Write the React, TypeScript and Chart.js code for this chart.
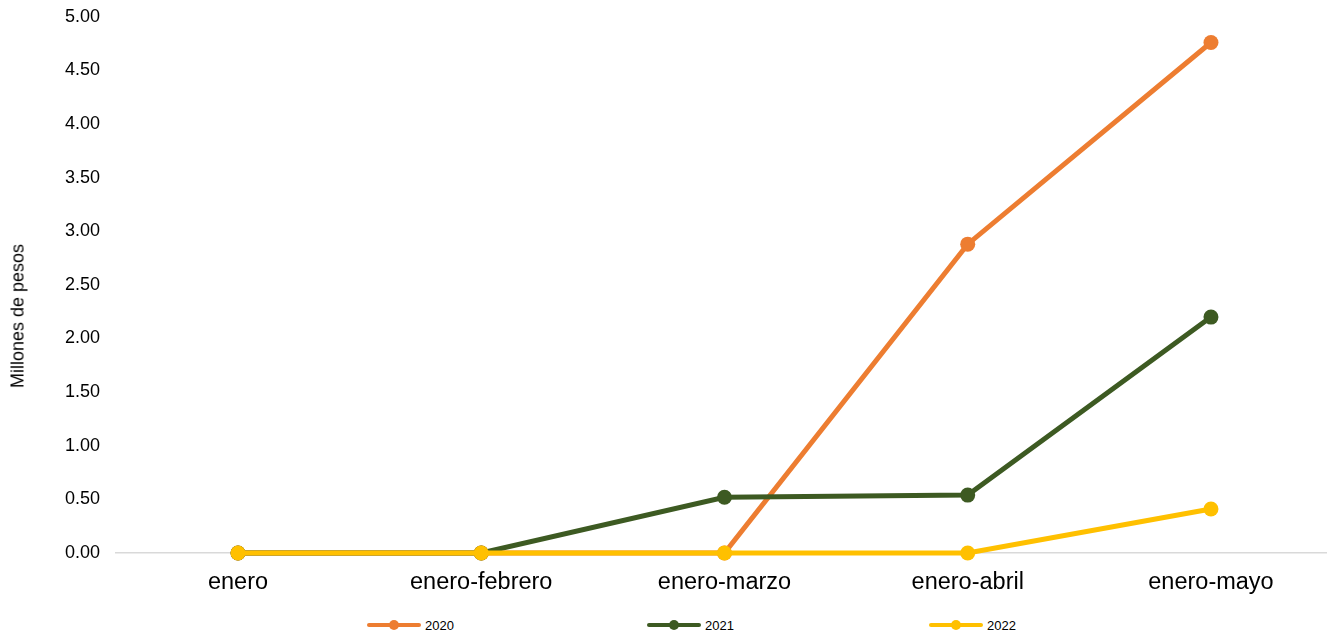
import React, { useEffect, useRef } from "react";
import { Chart, registerables } from "chart.js";

Chart.register(...registerables);

const categories = ["enero", "enero-febrero", "enero-marzo", "enero-abril", "enero-mayo"];
const series2020 = [0, 0, 0, 2.88, 4.76];
const series2021 = [0, 0, 0.52, 0.54, 2.2];
const series2022 = [0, 0, 0, 0, 0.41];
const seriesNames = ["2020", "2021", "2022"];
const colors = ["#ED7D31", "#3D5A22", "#FFC000"];
const yTickValues = [0, 0.5, 1, 1.5, 2, 2.5, 3, 3.5, 4, 4.5, 5];
const yTitle = "Millones de pesos";

const FONT = "'Liberation Sans', Arial, sans-serif";

export default function App() {
  const ref = useRef<HTMLCanvasElement | null>(null);

  useEffect(() => {
    document.body.style.margin = "0";
    const canvas = ref.current;
    if (!canvas) return;
    const all = [series2020, series2021, series2022];
    const chart = new Chart(canvas, {
      type: "line",
      data: {
        datasets: all.map((d, i) => ({
          label: seriesNames[i],
          data: d.map((y, k) => ({ x: k, y })),
          borderColor: colors[i],
          backgroundColor: colors[i],
          pointBackgroundColor: colors[i],
          pointBorderColor: colors[i],
          pointRadius: 7.5,
          pointBorderWidth: 0,
          borderWidth: 5,
          tension: 0,
          order: 3 - i,
          clip: false,
        })),
      },
      options: {
        responsive: false,
        animation: false,
        layout: { autoPadding: false, padding: { top: 0, right: 0, bottom: 0, left: 0 } },
        plugins: {
          legend: { display: false },
          tooltip: { enabled: false },
        },
        scales: {
          x: {
            type: "linear",
            min: -0.5015,
            max: 4.477,
            grid: { display: false, drawTicks: false },
            border: { display: true, color: "#D9D9D9", width: 1.5 },
            afterBuildTicks: (s: any) => {
              s.ticks = categories.map((_, k) => ({ value: k }));
            },
            ticks: {
              color: "#000",
              font: { family: FONT, size: 23.5 },
              padding: 15,
              maxRotation: 0,
              autoSkip: false,
              callback: (v: any) => categories[Math.round(Number(v))] ?? "",
            },
            afterFit: (s: any) => {
              s.height = 52;
            },
          },
          y: {
            min: 0,
            max: 5,
            grid: {
              display: true,
              drawOnChartArea: false,
              drawTicks: true,
              tickLength: 10,
              color: "rgba(0,0,0,0)",
            },
            border: { display: false },
            afterBuildTicks: (s: any) => {
              s.ticks = yTickValues.map((v) => ({ value: v }));
            },
            ticks: {
              color: "#000",
              font: { family: FONT, size: 18 },
              padding: 6,
              callback: (v: any) => Number(v).toFixed(2),
            },
            afterFit: (s: any) => {
              s.width = 116;
            },
          },
        },
      },
    });
    return () => chart.destroy();
  }, []);

  const legendLeft = [367, 647, 929];

  return (
    <div style={{ position: "relative", width: 1327, height: 630, overflow: "hidden" }}>
      <canvas ref={ref} width={1327} height={605} style={{ display: "block" }} />
      <div
        style={{
          position: "absolute",
          left: 18,
          top: 316,
          transform: "translate(-50%, -50%) rotate(-90deg)",
          whiteSpace: "nowrap",
          fontFamily: FONT,
          fontSize: 18,
          color: "#000",
        }}
      >
        {yTitle}
      </div>
      {seriesNames.map((name, i) => (
        <div
          key={name}
          style={{
            position: "absolute",
            left: legendLeft[i],
            top: 616,
            height: 18,
            display: "flex",
            alignItems: "center",
            fontFamily: FONT,
            fontSize: 13,
            color: "#000",
          }}
        >
          <div style={{ position: "relative", width: 54, height: 18, marginRight: 4 }}>
            <div
              style={{
                position: "absolute",
                left: 0,
                top: 7,
                width: 54,
                height: 4,
                borderRadius: 2,
                background: colors[i],
              }}
            />
            <div
              style={{
                position: "absolute",
                left: 22,
                top: 4,
                width: 10,
                height: 10,
                borderRadius: 5,
                background: colors[i],
              }}
            />
          </div>
          <span>{name}</span>
        </div>
      ))}
    </div>
  );
}
